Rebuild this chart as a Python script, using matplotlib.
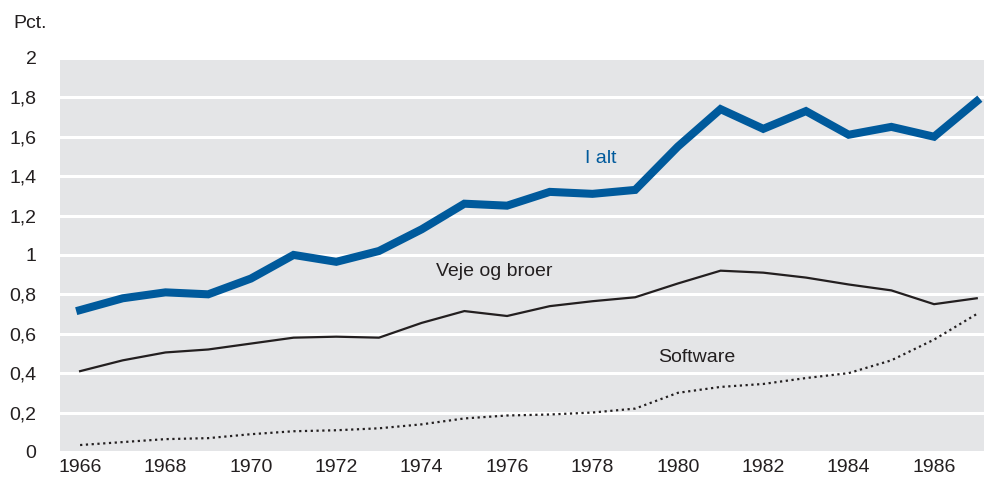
import matplotlib.pyplot as plt
from matplotlib import font_manager

# Data (pct.)
years = list(range(1966, 1988))
i_alt = [0.72, 0.78, 0.81, 0.80, 0.88, 1.00, 0.965, 1.02, 1.13, 1.26, 1.25,
         1.32, 1.31, 1.33, 1.55, 1.74, 1.64, 1.73, 1.61, 1.65, 1.60, 1.78]
veje = [0.41, 0.465, 0.505, 0.52, 0.55, 0.58, 0.585, 0.58, 0.655, 0.715, 0.69,
        0.74, 0.765, 0.785, 0.855, 0.92, 0.91, 0.885, 0.85, 0.82, 0.75, 0.78]
software = [0.035, 0.05, 0.065, 0.07, 0.09, 0.105, 0.11, 0.12, 0.14, 0.17, 0.185,
            0.19, 0.20, 0.22, 0.30, 0.33, 0.345, 0.375, 0.40, 0.465, 0.57, 0.70]
yticks = [0, 0.2, 0.4, 0.6, 0.8, 1.0, 1.2, 1.4, 1.6, 1.8, 2.0]
xticks = list(range(1966, 1988, 2))

names = {f.name for f in font_manager.fontManager.ttflist}
fam = 'Liberation Sans Narrow' if 'Liberation Sans Narrow' in names else 'Liberation Sans'
plt.rcParams['font.family'] = [fam, 'DejaVu Sans']

fig = plt.figure(figsize=(9.84, 4.95), dpi=100)
ax = fig.add_axes([0.061, 0.087, 0.939, 0.796])
ax.set_facecolor('#e4e5e7')

ax.plot(years, i_alt, color='#005a9c', lw=5.8, solid_joinstyle='miter', zorder=3)
ax.plot(years, veje, color='#231f20', lw=1.6, zorder=3)
ax.plot(years, software, color='#231f20', lw=1.6, linestyle=(0, (1, 1.6)), zorder=3)

ax.set_xlim(1965.53, 1987.17)
ax.set_ylim(0, 2)
ax.set_yticks(yticks)
ax.set_yticklabels([('%g' % v).replace('.', ',') for v in yticks])
ax.set_xticks(xticks)
ax.grid(axis='y', color='white', lw=2.2)
ax.set_axisbelow(True)
for s in ax.spines.values():
    s.set_visible(False)
ax.tick_params(length=0, labelsize=14, colors='#231f20')
ax.tick_params(axis='x', pad=5)
ax.tick_params(axis='y', pad=17)

ax.text(1978.2, 1.49, 'I alt', color='#005a9c', fontsize=14, ha='center', va='center')
ax.text(1975.7, 0.915, 'Veje og broer', color='#231f20', fontsize=14, ha='center', va='center')
ax.text(1980.45, 0.48, 'Software', color='#231f20', fontsize=14, ha='center', va='center')
fig.text(0.014, 0.952, 'Pct.', fontsize=14, color='#231f20', va='center')

fig.savefig('out.png', dpi=100)
